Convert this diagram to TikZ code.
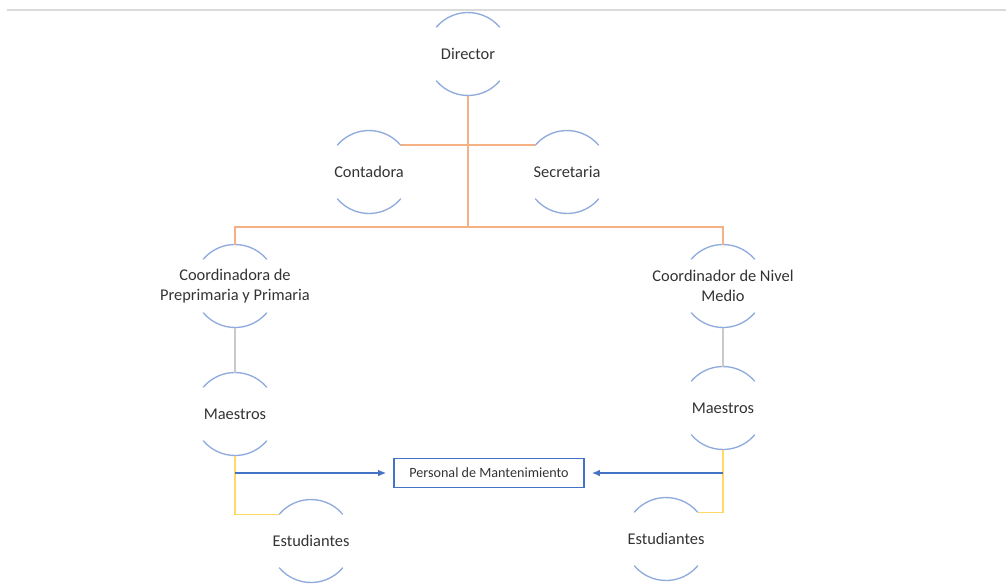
\documentclass[tikz,border=0pt]{standalone}
\usepackage{fontspec}
\setmainfont{Carlito}
\usetikzlibrary{calc, arrows.meta, positioning}
\definecolor{arcoazul}{HTML}{8FAADC}
\definecolor{naranja}{HTML}{F4B183}
\definecolor{gris}{HTML}{C9C9C9}
\definecolor{amarillo}{HTML}{FFD966}
\definecolor{azul}{HTML}{4472C4}
\definecolor{texto}{HTML}{333333}
\definecolor{regla}{HTML}{DADADA}

\tikzset{
  puesto/.style={circle, minimum size=62.25pt, inner sep=0pt, outer sep=0pt},
  rotulo/.style={align=center, font=\fontsize{12.3}{15}\selectfont, text=texto},
  arco/.style={draw=arcoazul, line width=1pt},
  mando/.style={draw=naranja, line width=1.3pt},
  enlace/.style={draw=gris, line width=1.2pt},
  apoyo/.style={draw=amarillo, line width=1.2pt},
  flecha/.style={draw=azul, line width=0.9pt, -{Latex[length=6pt, width=5pt]}, shorten >=5.5pt},
  caja/.style={draw=azul, line width=0.9pt, minimum width=142.5pt, minimum height=21.75pt,
    inner sep=0pt, font=\fontsize{10.6}{12}\selectfont, text=texto}
}

\begin{document}
\begin{tikzpicture}[x=0.75pt, y=-0.75pt]
  \useasboundingbox (0,0) rectangle (1006,587);
  % regla superior
  \coordinate (reglaA) at (7,10);
  \coordinate (reglaB) at (1006,10);
  \draw[regla, line width=1.2pt] (reglaA) -- (reglaB);

  % puestos
  \node[puesto, label={[rotulo]center:Director}] (dir) at (468,54) {};
  \node[puesto, label={[rotulo]center:Contadora}] (cont) at (369,172) {};
  \node[puesto, label={[rotulo]center:Secretaria}] (secr) at (567,172) {};
  \node[puesto, label={[rotulo]center:{Coordinadora de\\Preprimaria y Primaria}}] (coordpp) at (235,286) {};
  \node[puesto, label={[rotulo]center:{Coordinador de Nivel\\Medio}}] (coordnm) at (723,286) {};
  \node[puesto, label={[rotulo]center:Maestros}] (maespp) at (235,414) {};
  \node[puesto, label={[rotulo]center:Maestros}] (maesnm) at (723,408) {};
  \node[puesto, label={[rotulo]center:Estudiantes}] (estpp) at (311,541) {};
  \node[puesto, label={[rotulo]center:Estudiantes}] (estnm) at (666,539) {};
  \node[caja] (mant) at (489,473) {Personal de Mantenimiento};

  % arcos de cada puesto
  \foreach \n in {dir,cont,secr,coordpp,coordnm,maespp,maesnm,estpp,estnm}{
    \draw[arco] (\n.40) arc[start angle=40, end angle=140, radius=31.125pt];
    \draw[arco] (\n.220) arc[start angle=220, end angle=320, radius=31.125pt];
  }

  % lineas de mando
  \coordinate (bus) at (468,227);
  \draw[mando] (dir.south) -- (dir.south |- bus);
  \draw[mando] (cont.40) -- (secr.140);
  \draw[mando] (coordpp.north) -- (coordpp.north |- bus) -- (coordnm.north |- bus) -- (coordnm.north);

  % coordinacion a maestros
  \draw[enlace] (coordpp.south) -- (maespp.north);
  \draw[enlace] (coordnm.south) -- (maesnm.north);

  % maestros a estudiantes
  \draw[apoyo] (maespp.south) |- (estpp.140);
  \draw[apoyo] (maesnm.south) |- (estnm.40);

  % mantenimiento
  \draw[flecha] (maespp.south |- mant.west) -- (mant.west);
  \draw[flecha] (maesnm.south |- mant.east) -- (mant.east);
\end{tikzpicture}
\end{document}
